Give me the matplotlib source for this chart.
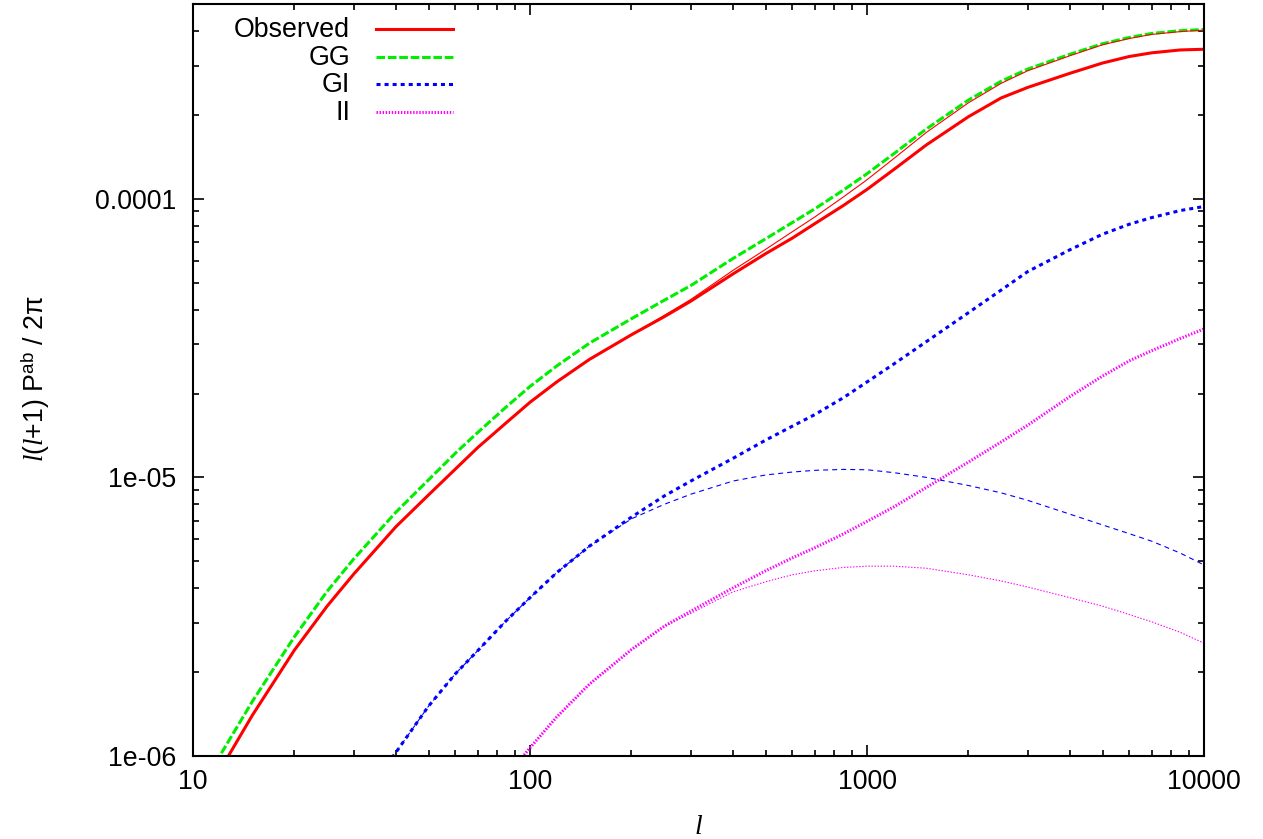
import matplotlib
matplotlib.use("Agg")
import numpy as np
import matplotlib.pyplot as plt
from matplotlib.lines import Line2D
from matplotlib.ticker import FixedLocator, FixedFormatter, LogLocator, NullFormatter

plt.rcParams["font.family"] = ["Liberation Sans", "DejaVu Sans"]
plt.rcParams["mathtext.fontset"] = "custom"
plt.rcParams["mathtext.it"] = "Liberation Serif:italic"
plt.rcParams["mathtext.rm"] = "Liberation Sans"
plt.rcParams["lines.scale_dashes"] = False

nan = np.nan

# multipole values
ell = [10, 12, 15, 20, 25, 30, 40, 50, 60, 70, 85, 100, 120, 150, 200, 250,
       300, 400, 500, 600, 700, 850, 1000, 1200, 1500, 2000, 2500, 3000,
       4000, 5000, 6000, 7000, 8500, 10000]

# shear-shear (GG)
gg = [6.8e-7, 1.0e-6, 1.57e-6, 2.68e-6, 3.9e-6, 5.1e-6, 7.5e-6, 9.8e-6,
      1.22e-5, 1.45e-5, 1.79e-5, 2.12e-5, 2.51e-5, 3.03e-5, 3.71e-5, 4.32e-5,
      4.88e-5, 6.1e-5, 7.18e-5, 8.21e-5, 9.2e-5, 1.073e-4, 1.23e-4, 1.449e-4,
      1.78e-4, 2.26e-4, 2.64e-4, 2.92e-4, 3.3e-4, 3.6e-4, 3.79e-4, 3.92e-4,
      4.01e-4, 4.05e-4]

# observed total
observed = [6.0e-7, 8.85e-7, 1.40e-6, 2.40e-6, 3.45e-6, 4.5e-6, 6.65e-6,
            8.65e-6, 1.07e-5, 1.28e-5, 1.57e-5, 1.86e-5, 2.2e-5, 2.65e-5,
            3.25e-5, 3.77e-5, 4.29e-5, 5.37e-5, 6.35e-5, 7.22e-5, 8.14e-5,
            9.45e-5, 1.08e-4, 1.272e-4, 1.56e-4, 1.97e-4, 2.3e-4, 2.51e-4,
            2.82e-4, 3.07e-4, 3.24e-4, 3.34e-4, 3.42e-4, 3.44e-4]

# observed total, alternative alignment model
observed_alt = [6.0e-7, 8.85e-7, 1.40e-6, 2.40e-6, 3.45e-6, 4.5e-6, 6.65e-6,
                8.65e-6, 1.07e-5, 1.28e-5, 1.57e-5, 1.86e-5, 2.2e-5, 2.65e-5,
                3.25e-5, 3.81e-5, 4.35e-5, 5.53e-5, 6.58e-5, 7.61e-5, 8.6e-5,
                1.014e-4, 1.17e-4, 1.393e-4, 1.73e-4, 2.21e-4, 2.595e-4,
                2.88e-4, 3.26e-4, 3.57e-4, 3.76e-4, 3.89e-4, 3.98e-4, 4.03e-4]

# |GI|
gi = [nan, nan, nan, nan, nan, 6.4e-7, 1.03e-6, 1.51e-6, 1.97e-6, 2.39e-6,
      3.06e-6, 3.7e-6, 4.55e-6, 5.66e-6, 7.2e-6, 8.57e-6, 9.7e-6, 1.17e-5,
      1.36e-5, 1.526e-5, 1.68e-5, 1.93e-5, 2.2e-5, 2.55e-5, 3.07e-5, 3.9e-5,
      4.7e-5, 5.48e-5, 6.56e-5, 7.46e-5, 8.1e-5, 8.56e-5, 9.07e-5, 9.38e-5]

gi_alt = [nan, nan, nan, nan, nan, 6.4e-7, 1.03e-6, 1.51e-6, 1.97e-6, 2.39e-6,
          3.06e-6, 3.7e-6, 4.55e-6, 5.66e-6, 7.1e-6, 8.0e-6, 8.7e-6, 9.7e-6,
          1.02e-5, 1.045e-5, 1.06e-5, 1.068e-5, 1.065e-5, 1.04e-5, 1.0e-5,
          9.35e-6, 8.8e-6, 8.27e-6, 7.38e-6, 6.75e-6, 6.28e-6, 5.9e-6,
          5.35e-6, 4.85e-6]

# II
ii = [nan, nan, nan, nan, nan, nan, nan, nan, nan, 6.3e-7, 8.4e-7, 1.07e-6,
      1.38e-6, 1.81e-6, 2.41e-6, 2.92e-6, 3.31e-6, 4.01e-6, 4.62e-6, 5.14e-6,
      5.59e-6, 6.26e-6, 6.95e-6, 7.83e-6, 9.2e-6, 1.135e-5, 1.34e-5, 1.54e-5,
      1.95e-5, 2.31e-5, 2.62e-5, 2.85e-5, 3.15e-5, 3.41e-5]

ii_alt = [nan, nan, nan, nan, nan, nan, nan, nan, nan, 6.3e-7, 8.4e-7,
          1.07e-6, 1.38e-6, 1.81e-6, 2.41e-6, 2.92e-6, 3.25e-6, 3.88e-6,
          4.22e-6, 4.47e-6, 4.62e-6, 4.75e-6, 4.8e-6, 4.8e-6, 4.72e-6,
          4.47e-6, 4.25e-6, 4.04e-6, 3.7e-6, 3.45e-6, 3.22e-6, 3.03e-6,
          2.78e-6, 2.54e-6]

labels = ["Observed", "GG", "GI", "II"]
x_ticks = [10, 100, 1000, 10000]
x_ticklabels = ["10", "100", "1000", "10000"]
y_ticks = [1e-6, 1e-5, 1e-4]
y_ticklabels = ["1e-06", "1e-05", "0.0001"]

RED, GREEN, BLUE, MAGENTA = "#ff0000", "#00ee00", "#0000ff", "#ff00ff"

fig = plt.figure(figsize=(12.63, 8.39), dpi=100)
ax = fig.add_axes([193 / 1263, 1 - 756 / 839, 1011 / 1263, 752 / 839])

styles = [
    dict(color=RED, lw=2.2, ls="-"),
    dict(color=GREEN, lw=2.2, ls=(0, (6.2, 2.0))),
    dict(color=BLUE, lw=2.2, ls=(0, (2.9, 2.9))),
    dict(color=MAGENTA, lw=2.2, ls=(0, (1.0, 1.2))),
]

ax.plot(ell, observed, **styles[0])
ax.plot(ell, gg, **styles[1])
ax.plot(ell, gi, **styles[2])
ax.plot(ell, ii, **styles[3])
ax.plot(ell, observed_alt, color=RED, lw=0.8, ls="-")
ax.plot(ell, gi_alt, color=BLUE, lw=0.8, ls=(0, (3.6, 2.9)))
ax.plot(ell, ii_alt, color=MAGENTA, lw=0.8, ls=(0, (1.0, 1.2)))

ax.set_xscale("log")
ax.set_yscale("log")
ax.set_xlim(10, 10000)
ax.set_ylim(1e-6, 5e-4)

ax.xaxis.set_major_locator(FixedLocator(x_ticks))
ax.xaxis.set_major_formatter(FixedFormatter(x_ticklabels))
ax.yaxis.set_major_locator(FixedLocator(y_ticks))
ax.yaxis.set_major_formatter(FixedFormatter(y_ticklabels))
ax.xaxis.set_minor_locator(LogLocator(base=10, subs=np.arange(2, 10)))
ax.yaxis.set_minor_locator(LogLocator(base=10, subs=np.arange(2, 10)))
ax.xaxis.set_minor_formatter(NullFormatter())
ax.yaxis.set_minor_formatter(NullFormatter())

ax.tick_params(which="both", direction="in", top=True, right=True,
               width=1.2, colors="black", labelsize=19.3)
ax.tick_params(which="major", length=8)
ax.tick_params(which="minor", length=4.3)
ax.tick_params(axis="x", which="major", pad=9.5)
ax.tick_params(axis="y", which="major", pad=12)
for sp in ax.spines.values():
    sp.set_linewidth(1.5)

# key, text to the left of each sample line
rows_line = [0.9664, 0.9300, 0.8936, 0.8568]
rows_text = [0.9557, 0.9193, 0.8830, 0.8461]
for lab, st, yl, yt in zip(labels, styles, rows_line, rows_text):
    ax.add_line(Line2D([0.181, 0.2572], [yl, yl], transform=ax.transAxes, **st))
    ax.text(0.1553, yt, lab, transform=ax.transAxes, ha="right",
            va="baseline", fontsize=19.3)

fig.text(699 / 1263, 1 - 834 / 839, r"$l$", ha="center", va="baseline",
         fontsize=20)
fig.text(35 / 1263, 1 - 379 / 839, r"$l$($l$+1) $\mathrm{P}^{\mathrm{ab}}$ / 2π",
         rotation=90, ha="center", va="center", fontsize=19.3)

fig.savefig("out.png", dpi=100)
